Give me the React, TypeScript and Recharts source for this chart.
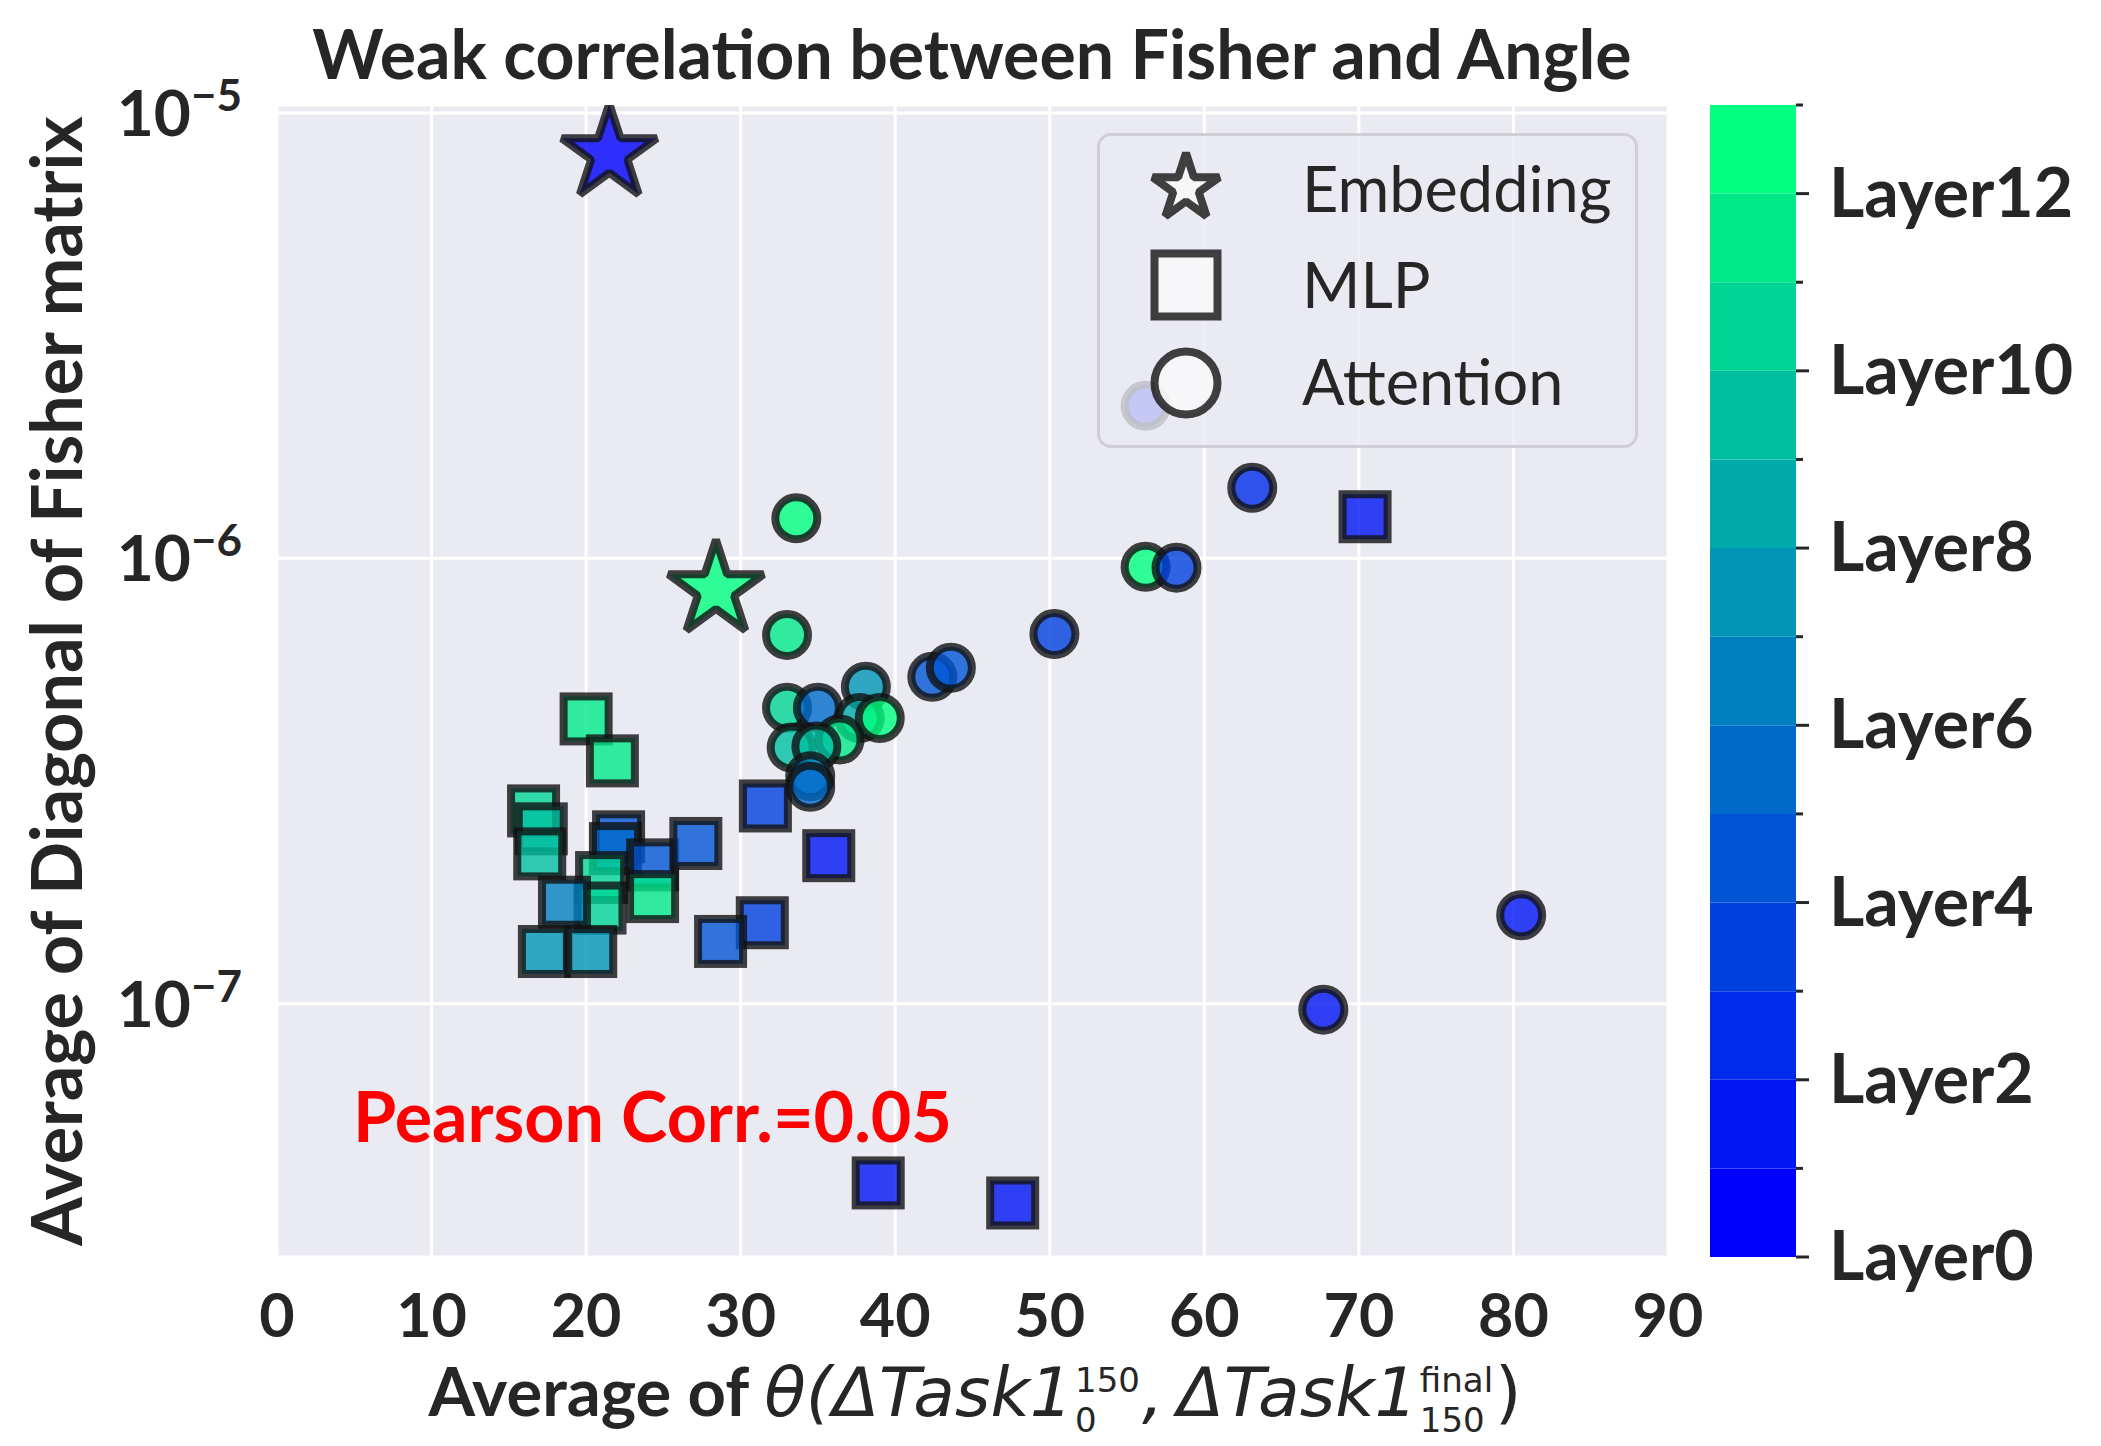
import React from "react";
import { Bar, BarChart, CartesianGrid, Legend, Scatter, ScatterChart, XAxis, YAxis } from "recharts";

// Embedding layers
const embAngle = [21.5, 28.4];
const embFisher = [8.1e-6, 8.5e-7];
const embLayer = [0, 12];

// MLP layers
const mlpAngle = [20.0, 21.7, 16.6, 17.1, 17.0, 22.1, 21.9, 24.3, 27.1, 21.0, 20.9, 24.3, 18.6, 17.3, 20.3, 31.6, 35.7, 31.4, 28.7, 70.4, 38.9, 47.6];
const mlpFisher = [4.36e-7, 3.51e-7, 2.71e-7, 2.47e-7, 2.17e-7, 2.37e-7, 2.23e-7, 2.05e-7, 2.29e-7, 1.92e-7, 1.64e-7, 1.74e-7, 1.69e-7, 1.31e-7, 1.31e-7, 2.78e-7, 2.15e-7, 1.52e-7, 1.38e-7, 1.24e-6, 3.96e-8, 3.57e-8];
const mlpLayer = [11, 11, 10, 9, 9, 4, 5, 4, 4, 10, 10, 11, 6, 7, 7, 3, 1, 3, 4, 1, 1, 1];

// Attention layers
const attnAngle = [33.6, 33.0, 33.0, 38.1, 35.0, 37.7, 39.0, 36.4, 33.3, 34.9, 34.5, 34.5, 42.4, 43.6, 50.3, 56.2, 58.2, 63.1, 56.2, 80.5, 67.7];
const attnFisher = [1.23e-6, 6.73e-7, 4.62e-7, 5.15e-7, 4.62e-7, 4.38e-7, 4.38e-7, 3.92e-7, 3.76e-7, 3.78e-7, 3.24e-7, 3.07e-7, 5.42e-7, 5.68e-7, 6.76e-7, 9.57e-7, 9.53e-7, 1.44e-6, 2.2e-6, 1.58e-7, 9.7e-8];
const attnLayer = [12, 11, 10, 7, 5, 8, 12, 11, 9, 9, 6, 5, 4, 4, 3, 12, 3, 2, 1, 1, 1];

const xTicks = [0, 10, 20, 30, 40, 50, 60, 70, 80, 90];
const yTicks = [1e-7, 1e-6, 1e-5];
const layerTicks = [0, 1, 2, 3, 4, 5, 6, 7, 8, 9, 10, 11, 12, 13];
const layerNames = layerTicks.slice(0, 13).map((k) => `l${k}`);

const FONT = "Lato";
const INK = "#262626";

// matplotlib "winter" colormap, 13 discrete steps
function winter(k: number) {
  const t = k / 12;
  return `rgb(0, ${Math.round(255 * t)}, ${Math.round(255 * (1 - 0.5 * t))})`;
}

const toPoints = (xs: number[], ys: number[], ls: number[]) =>
  xs.map((a, i) => ({ angle: a, fisher: ys[i], layer: ls[i] }));

const embData = toPoints(embAngle, embFisher, embLayer);
const mlpData = toPoints(mlpAngle, mlpFisher, mlpLayer);
const attnData = toPoints(attnAngle, attnFisher, attnLayer);

const colorbarRow = [Object.fromEntries([["name", "cb"], ...layerNames.map((n) => [n, 1])])];

const edge = { stroke: "#111", strokeOpacity: 0.8, strokeWidth: 8 };

function starPath(cx: number, cy: number, R: number) {
  const r = R * 0.382;
  let d = "";
  for (let i = 0; i < 10; i++) {
    const a = ((-90 + i * 36) * Math.PI) / 180;
    const rad = i % 2 === 0 ? R : r;
    d += (i === 0 ? "M" : "L") + (cx + rad * Math.cos(a)).toFixed(2) + "," + (cy + rad * Math.sin(a)).toFixed(2);
  }
  return d + "Z";
}

const StarShape = (p: any) => (
  <path d={starPath(p.cx, p.cy, 50)} fill={winter(p.payload.layer)} fillOpacity={0.8} {...edge} strokeLinejoin="bevel" />
);
const SquareShape = (p: any) => (
  <rect x={p.cx - 22.5} y={p.cy - 22.5} width={45} height={45} fill={winter(p.payload.layer)} fillOpacity={0.8} {...edge} />
);
const CircleShape = (p: any) => (
  <circle cx={p.cx} cy={p.cy} r={21} fill={winter(p.payload.layer)} fillOpacity={0.8} {...edge} />
);

const LogTick = (p: any) => {
  const exp = Math.round(Math.log10(p.payload.value));
  return (
    <text x={p.x} y={p.y + 23} textAnchor="end" fill={INK} fontFamily={FONT} fontWeight={700} fontSize={64}>
      10
      <tspan fontSize={44} dy={-25}>
        {"\u2212" + Math.abs(exp)}
      </tspan>
    </text>
  );
};

const LayerTick = (p: any) => {
  const v = p.payload.value;
  const major = v % 2 === 0;
  return (
    <g>
      <line x1={p.x} x2={p.x + (major ? 13 : 7)} y1={p.y} y2={p.y} stroke={INK} strokeWidth={3} />
      {major && v <= 12 && (
        <text x={p.x + 33} y={p.y + 23} fill={INK} fontFamily={FONT} fontWeight={700} fontSize={68}>
          {`Layer${v}`}
        </text>
      )}
    </g>
  );
};

const legendFill = { fill: "#fafafa", fillOpacity: 0.8, ...edge };

const LegendBox = () => (
  <div
    style={{
      width: 541,
      height: 315,
      boxSizing: "border-box",
      border: "3px solid #d0d0d4",
      borderRadius: 14,
      background: "rgba(234,234,242,0.8)",
    }}
  >
    <svg width={535} height={309} style={{ display: "block" }}>
      <path d={starPath(86, 52, 35)} {...legendFill} strokeLinejoin="bevel" />
      <rect x={86 - 31.5} y={149 - 31.5} width={63} height={63} {...legendFill} />
      <circle cx={86} cy={247} r={31.5} {...legendFill} />
      <g fill={INK} fontFamily={FONT} fontSize={63}>
        <text x={202} y={76}>Embedding</text>
        <text x={202} y={172}>MLP</text>
        <text x={202} y={269}>Attention</text>
      </g>
    </svg>
  </div>
);

// stacked super/subscript pair, as in mathtext x_a^b
const Stack = ({ sup, sub }: { sup: string; sub: string }) => (
  <span
    style={{
      display: "inline-flex",
      flexDirection: "column",
      fontSize: 34,
      lineHeight: 1.17,
      position: "relative",
      top: -24,
      fontStyle: "normal",
      margin: "0 2px",
    }}
  >
    <span>{sup}</span>
    <span>{sub}</span>
  </span>
);

export default function App() {
  return (
    <div style={{ position: "absolute", left: 0, top: 0, width: 2101, height: 1446, background: "#fff" }}>
      <div style={{ position: "absolute", left: 0, top: 0 }}>
        <ScatterChart width={2101} height={1446} margin={{ top: 105, right: 433, bottom: 0, left: 0 }}>
          <CartesianGrid fill="#EAEAF2" stroke="#fff" strokeWidth={3} />
          <XAxis
            type="number"
            dataKey="angle"
            domain={[0, 90]}
            ticks={xTicks}
            allowDataOverflow
            height={189}
            axisLine={false}
            tickLine={false}
            tickSize={0}
            tickMargin={37}
            tick={{ fill: INK, fontFamily: FONT, fontWeight: 700, fontSize: 61 }}
          />
          <YAxis
            type="number"
            dataKey="fisher"
            scale="log"
            domain={[2.7e-8, 1.042e-5]}
            ticks={yTicks}
            allowDataOverflow
            width={277}
            axisLine={false}
            tickLine={false}
            tickSize={0}
            tickMargin={35}
            tick={LogTick}
          />
          <Legend
            layout="horizontal"
            verticalAlign="middle"
            align="center"
            content={LegendBox}
            wrapperStyle={{ position: "absolute", left: 1097, top: 133, width: 541, height: 315 }}
          />
          <Scatter name="MLP" data={mlpData} shape={SquareShape} isAnimationActive={false} />
          <Scatter name="Attention" data={attnData} shape={CircleShape} isAnimationActive={false} />
          <Scatter name="Embedding" data={embData} shape={StarShape} isAnimationActive={false} />
          <text x={972} y={79} textAnchor="middle" fill={INK} fontFamily={FONT} fontWeight={700} fontSize={68}>
            Weak correlation between Fisher and Angle
          </text>
          <text x={353} y={1142} fill="#ff0000" fontFamily={FONT} fontWeight={700} fontSize={70}>
            Pearson Corr.=0.05
          </text>
          <text
            transform="translate(82, 681) rotate(-90)"
            textAnchor="middle"
            fill={INK}
            fontFamily={FONT}
            fontWeight={700}
            fontSize={70}
          >
            Average of Diagonal of Fisher matrix
          </text>
        </ScatterChart>
      </div>

      {/* colorbar */}
      <div style={{ position: "absolute", left: 1710, top: 0 }}>
        <BarChart
          width={391}
          height={1446}
          data={colorbarRow}
          margin={{ top: 105, right: 0, bottom: 189, left: 0 }}
          barCategoryGap={0}
          barGap={0}
        >
          <XAxis dataKey="name" hide />
          <YAxis
            type="number"
            orientation="right"
            domain={[0, 13]}
            ticks={layerTicks}
            width={305}
            axisLine={false}
            tickLine={false}
            tickSize={0}
            tickMargin={0}
            tick={LayerTick}
          />
          {layerNames.map((n, k) => (
            <Bar key={n} dataKey={n} stackId="cb" fill={winter(k)} isAnimationActive={false} />
          ))}
        </BarChart>
      </div>

      {/* x axis label with stacked scripts */}
      <div
        style={{
          position: "absolute",
          left: 975,
          top: 1357,
          transform: "translateX(-50%)",
          whiteSpace: "nowrap",
          display: "flex",
          alignItems: "baseline",
          color: INK,
          lineHeight: 1,
        }}
      >
        <span style={{ fontFamily: FONT, fontWeight: 700, fontSize: 67 }}>Average of&nbsp;</span>
        <span style={{ fontFamily: "DejaVu Sans", fontStyle: "italic", fontSize: 68, display: "inline-flex", alignItems: "baseline" }}>
          θ(ΔTask1
          <Stack sup="150" sub="0" />
          ,&thinsp;ΔTask1
          <Stack sup="final" sub="150" />
          <span style={{ fontStyle: "normal" }}>)</span>
        </span>
      </div>
    </div>
  );
}
